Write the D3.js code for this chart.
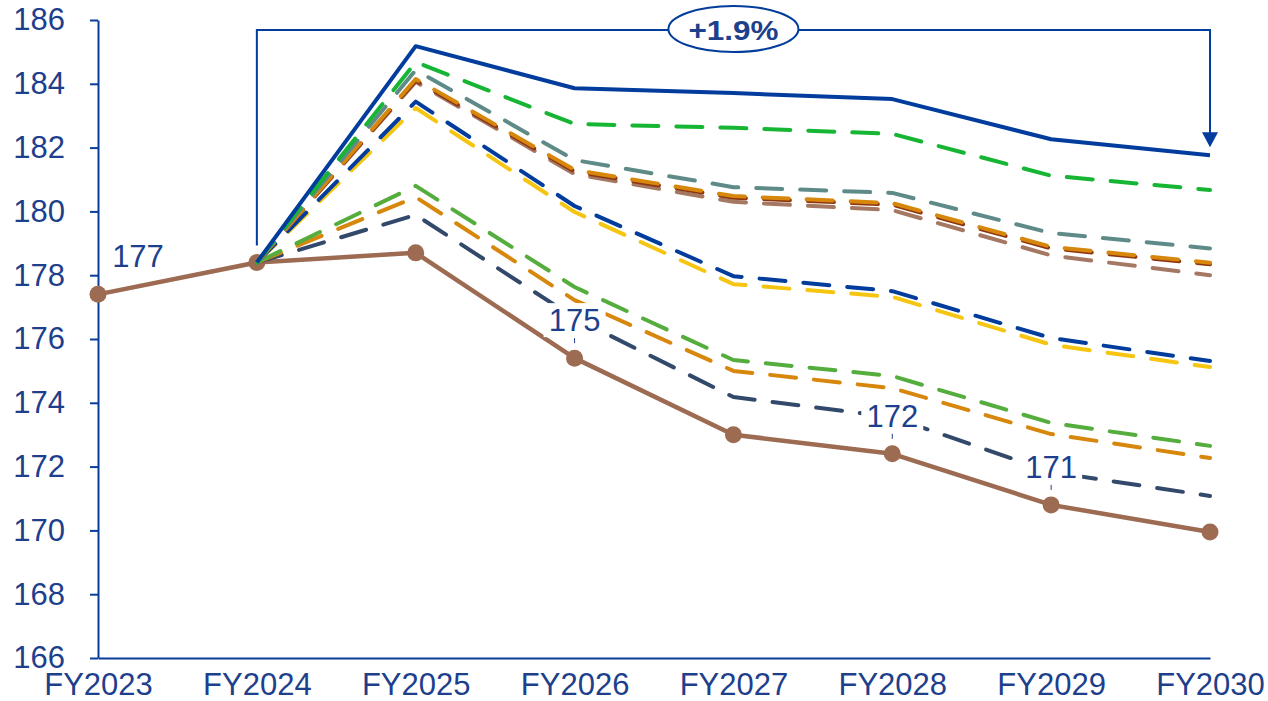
<!DOCTYPE html>
<html>
<head>
<meta charset="utf-8">
<script src="https://cdn.jsdelivr.net/npm/d3@7"></script>
<style>
  html, body { margin: 0; padding: 0; background: #fff; }
  svg { display: block; }
  text { font-family: "Liberation Sans", Arial, sans-serif; }
</style>
</head>
<body>
<svg id="chart" width="1268" height="701"></svg>
<script>
// Fiscal years on the x axis
const years = ["FY2023", "FY2024", "FY2025", "FY2026", "FY2027", "FY2028", "FY2029", "FY2030"];
const yTicks = [166, 168, 170, 172, 174, 176, 178, 180, 182, 184, 186];

// Actual / base path (all years)
const actual = [177.4, 178.4, 178.7, 175.4, 173.0, 172.4, 170.8, 169.95];

// Scenario paths, FY2024 onwards
const scenarioYears = years.slice(1);
const scenTop     = [178.4, 185.18, 183.86, 183.71, 183.52, 182.26, 181.76];
const scenGreen   = [178.4, 184.68, 182.74, 182.62, 182.43, 181.12, 180.67];
const scenTeal    = [178.4, 184.43, 181.61, 180.76, 180.58, 179.32, 178.84];
const scenRust    = [178.4, 184.10, 181.25, 180.43, 180.21, 178.84, 178.34];
const scenOrange  = [178.4, 184.15, 181.30, 180.48, 180.26, 178.89, 178.39];
const scenTan     = [178.4, 184.06, 181.17, 180.30, 180.04, 178.62, 178.00];
const scenBlue    = [178.4, 183.44, 180.17, 177.97, 177.50, 176.03, 175.31];
const scenYellow  = [178.4, 183.24, 179.98, 177.72, 177.32, 175.82, 175.12];
const scenGreen2  = [178.4, 180.80, 177.63, 175.34, 174.84, 173.37, 172.65];
const scenOrange2 = [178.4, 180.45, 177.22, 175.00, 174.46, 173.02, 172.27];
const scenNavy    = [178.4, 179.89, 176.66, 174.18, 173.55, 171.83, 171.08];

// Which actual points carry a value label
const labelYears = ["FY2023", "FY2026", "FY2028", "FY2029"];
const growthLabel = "+1.9%";

const svg = d3.select("#chart");
const x = d3.scalePoint().domain(years).range([98, 1210]);
const y = d3.scaleLinear().domain([166, 186]).range([658, 20]);

const axisBlue = "#0a3c9c";
const textBlue = "#1e3f8c";
const fontSize = 31;

// Axes
const gy = svg.append("g").attr("transform", "translate(98,0)")
  .call(d3.axisLeft(y).tickValues(yTicks).tickSize(8).tickPadding(25).tickSizeOuter(0));
gy.select(".domain").attr("stroke", axisBlue).attr("stroke-width", 2);
gy.selectAll(".tick line").attr("stroke", axisBlue).attr("stroke-width", 2);
gy.selectAll(".tick text").attr("fill", textBlue).attr("font-size", fontSize)
  .attr("font-family", "'Liberation Sans', Arial, sans-serif");

const gx = svg.append("g").attr("transform", "translate(0,658)")
  .call(d3.axisBottom(x).tickSize(0).tickPadding(15).tickSizeOuter(0));
gx.select(".domain").attr("stroke", axisBlue).attr("stroke-width", 2);
gx.selectAll(".tick text").attr("fill", textBlue).attr("font-size", fontSize)
  .attr("font-family", "'Liberation Sans', Arial, sans-serif");

const line = d3.line().x(d => x(d.year)).y(d => y(d.value));

// Actual line with markers
const actualPts = years.map((yr, i) => ({ year: yr, value: actual[i] }));
svg.append("path").datum(actualPts).attr("d", line)
  .attr("fill", "none").attr("stroke", "#9c6b52").attr("stroke-width", 4.5)
  .attr("stroke-linejoin", "round");
svg.selectAll("circle.pt").data(actualPts).join("circle").attr("class", "pt")
  .attr("cx", d => x(d.year)).attr("cy", d => y(d.value)).attr("r", 8.5)
  .attr("fill", "#9c6b52");

// Dashed scenario lines, drawn bottom to top
const scenarios = [
  { values: scenNavy,    color: "#33496b" },
  { values: scenOrange2, color: "#d6870c" },
  { values: scenGreen2,  color: "#55ad3d" },
  { values: scenYellow,  color: "#f6c512" },
  { values: scenBlue,    color: "#023c9c" },
  { values: scenTan,     color: "#a57863" },
  { values: scenRust,    color: "#8e3512" },
  { values: scenOrange,  color: "#d6870c" },
  { values: scenTeal,    color: "#5e8b88" },
  { values: scenGreen,   color: "#16b533" }
];
scenarios.forEach(s => {
  const pts = scenarioYears.map((yr, i) => ({ year: yr, value: s.values[i] }));
  svg.append("path").datum(pts).attr("d", line)
    .attr("fill", "none").attr("stroke", s.color).attr("stroke-width", 4)
    .attr("stroke-dasharray", "26 18").attr("stroke-linecap", "round")
    .attr("stroke-linejoin", "round");
});

// Solid top scenario
const topPts = scenarioYears.map((yr, i) => ({ year: yr, value: scenTop[i] }));
svg.append("path").datum(topPts).attr("d", line)
  .attr("fill", "none").attr("stroke", "#023c9c").attr("stroke-width", 4)
  .attr("stroke-linejoin", "round");

// Value labels on the actual line
const fmt = d3.format(".0f");
actualPts.filter(d => labelYears.includes(d.year)).forEach(d => {
  const px = x(d.year), py = y(d.value);
  if (d.year === "FY2023") {
    svg.append("text").attr("x", px + 40).attr("y", py - 27)
      .attr("text-anchor", "middle").attr("fill", textBlue).attr("font-size", fontSize)
      .text(fmt(d.value));
    return;
  }
  const base = py - 27;
  svg.append("rect").attr("x", px - 31).attr("y", base - 28).attr("width", 62).attr("height", 34)
    .attr("fill", "#fff");
  svg.append("line").attr("x1", px).attr("x2", px).attr("y1", py - 20).attr("y2", py - 15)
    .attr("stroke", textBlue).attr("stroke-width", 1);
  svg.append("text").attr("x", px).attr("y", base)
    .attr("text-anchor", "middle").attr("fill", textBlue).attr("font-size", fontSize)
    .text(fmt(d.value));
});

// Growth bracket from FY2024 to FY2030
const bx0 = x("FY2024"), bx1 = x("FY2030"), by = 30;
svg.append("path")
  .attr("d", `M${bx0},${y(actual[1]) - 17} V${by} H${bx1} V${y(scenTop[6]) - 22}`)
  .attr("fill", "none").attr("stroke", "#023c9c").attr("stroke-width", 2);
const tipY = y(scenTop[6]) - 8;
svg.append("path")
  .attr("d", `M${bx1 - 8},${tipY - 15} L${bx1 + 8},${tipY - 15} L${bx1},${tipY} Z`)
  .attr("fill", "#023c9c");
const ex = x("FY2027");
svg.append("ellipse").attr("cx", ex).attr("cy", by - 1).attr("rx", 65).attr("ry", 23)
  .attr("fill", "#fff").attr("stroke", "#023c9c").attr("stroke-width", 2);
svg.append("text").attr("x", ex).attr("y", by + 10).attr("text-anchor", "middle")
  .attr("fill", textBlue).attr("font-size", 28).attr("font-weight", "bold")
  .attr("textLength", 90).attr("lengthAdjust", "spacingAndGlyphs")
  .text(growthLabel);
</script>
</body>
</html>
